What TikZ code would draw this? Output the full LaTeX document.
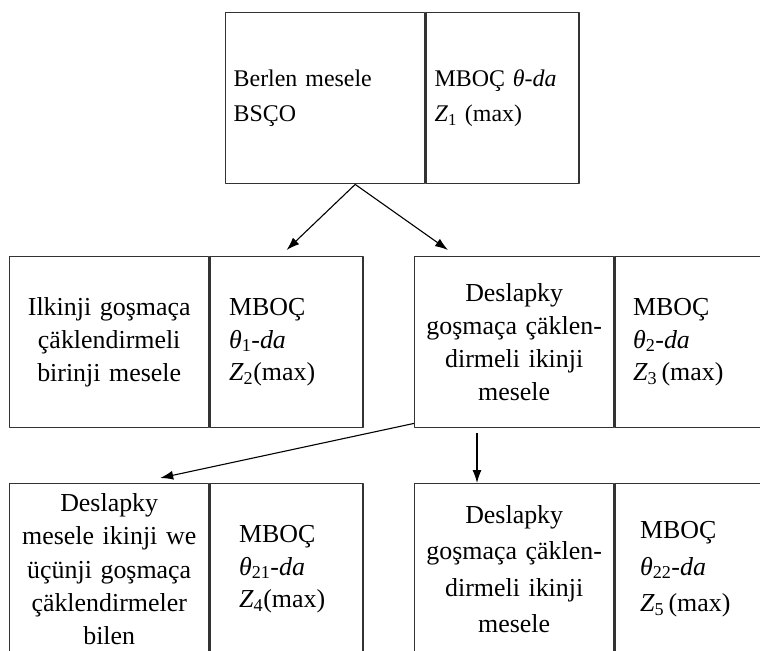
\documentclass[tikz,border=0pt]{standalone}
\usepackage{fontspec}
\setmainfont{Liberation Serif}
\usetikzlibrary{positioning,arrows.meta}

\tikzset{
  cell/.style={draw=black!80, line width=1.4bp, inner sep=0pt, minimum height=171bp},
  lcell/.style={cell, minimum width=199bp, text width=188bp, align=center},
  rcell/.style={cell, minimum width=153bp, align=left},
  topfont/.style={font=\fontsize{24}{35}\selectfont},
  boxfont/.style={font=\fontsize{26}{33}\selectfont},
}

\begin{document}
\begin{tikzpicture}[>={Latex[length=13bp,width=9bp]},line join=bevel]
%%
\clip (0bp,0bp) rectangle (760bp,-651bp);
% top row
\node (top_l) at (225bp,-12bp) [lcell,topfont,anchor=north west,text width=183bp,align=left] {Berlen mesele\\BSÇO};
  \node (top_r) [rcell,topfont,right=0bp of top_l,text width=136bp] {MBOÇ \textit{θ-da}\\\textit{Z}\textsubscript{1} (max)};
% middle row
\node (mid1_l) at (9bp,-256bp) [lcell,boxfont,anchor=north west] {Ilkinji goşmaça\\çäklendirmeli\\birinji mesele};
  \node (mid1_r) [rcell,boxfont,right=0bp of mid1_l,text width=115bp] {MBOÇ\\\textit{θ}\textsubscript{1}\textit{-da}\\\textit{Z}\textsubscript{2}(max)};
\node (mid2_l) at (414bp,-256bp) [lcell,boxfont,anchor=north west] {Deslapky\\goşmaça çäklen-\\dirmeli ikinji\\mesele};
  \node (mid2_r) [rcell,boxfont,right=0bp of mid2_l,text width=117bp] {MBOÇ\\\textit{θ}\textsubscript{2}\textit{-da}\\\textit{Z}\textsubscript{3}\,(max)};
% bottom row
\node (bot1_l) at (9bp,-483bp) [lcell,font=\fontsize{26}{33.5}\selectfont,anchor=north west] {Deslapky\\mesele ikinji we\\üçünji goşmaça\\çäklendirmeler\\bilen};
  \node (bot1_r) [rcell,boxfont,right=0bp of bot1_l,text width=95bp] {MBOÇ\\\textit{θ}\textsubscript{21}\textit{-da}\\\textit{Z}\textsubscript{4}(max)};
\node (bot2_l) at (414bp,-483bp) [lcell,font=\fontsize{26}{36.5}\selectfont,anchor=north west] {Deslapky\\goşmaça çäklen-\\dirmeli ikinji\\mesele};
  \node (bot2_r) [rcell,font=\fontsize{26}{36.5}\selectfont,right=0bp of bot2_l,text width=103bp] {MBOÇ\\\textit{θ}\textsubscript{22}\textit{-da}\\\textit{Z}\textsubscript{5}\,(max)};
% connectors
\coordinate (split) at ([xshift=30bp]top_l.south);
  \draw [black,line width=1.1bp,->] (split) -- ([yshift=6bp]mid1_r.north);
  \draw [black,line width=1.1bp,->] (split) -- ([xshift=34bp,yshift=6bp]mid2_l.north west);
  \draw [black,line width=1.1bp,->] ([yshift=5bp]mid2_l.south west) -- ([xshift=51bp,yshift=5bp]bot1_l.north);
  \draw [black,line width=1.1bp,->] ([xshift=63bp,yshift=-5bp]mid2_l.south west) -- ([xshift=63bp]bot2_l.north west);
%
\end{tikzpicture}
\end{document}
